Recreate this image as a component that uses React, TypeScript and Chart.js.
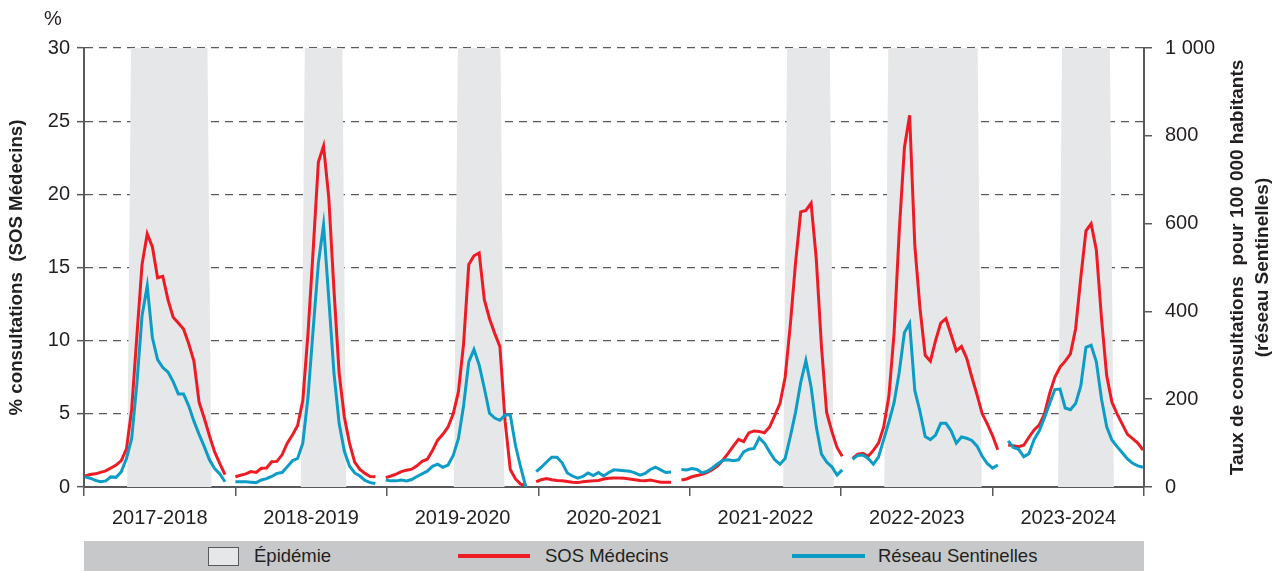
import React, { useEffect, useRef } from 'react';
import { Chart, registerables } from 'chart.js';

Chart.register(...registerables);

// ---------- data ----------
const seasons = ['2017-2018', '2018-2019', '2019-2020', '2020-2021', '2021-2022', '2022-2023', '2023-2024'];

// SOS Médecins, % of consultations (left axis), weekly
const sos2017 = [0.75, 0.85, 0.9, 1.0, 1.1, 1.3, 1.5, 1.8, 2.6, 5.3, 10.3, 15.2, 17.3, 16.4, 14.3, 14.4, 12.8, 11.6, 11.2, 10.8, 9.8, 8.6, 5.8, 4.7, 3.5, 2.4, 1.6, 0.85];
const sos2018 = [0.7, 0.8, 0.9, 1.05, 1.0, 1.28, 1.3, 1.73, 1.75, 2.2, 3.0, 3.55, 4.2, 5.9, 10.5, 16.2, 22.2, 23.3, 19.8, 13.5, 7.8, 4.8, 3.0, 1.7, 1.2, 0.93, 0.72, 0.7];
const sos2019 = [0.64, 0.75, 0.88, 1.05, 1.15, 1.22, 1.45, 1.75, 1.9, 2.5, 3.2, 3.6, 4.1, 5.0, 6.5, 9.8, 15.2, 15.8, 16.0, 12.8, 11.5, 10.5, 9.6, 4.5, 1.2, 0.55, 0.2, 0.1];
const sos2020 = [0.36, 0.5, 0.58, 0.5, 0.45, 0.43, 0.38, 0.32, 0.3, 0.36, 0.4, 0.42, 0.45, 0.55, 0.6, 0.62, 0.61, 0.59, 0.55, 0.5, 0.45, 0.42, 0.47, 0.4, 0.33, 0.32, 0.32];
const sos2021 = [0.48, 0.55, 0.7, 0.78, 0.87, 1.0, 1.2, 1.45, 1.85, 2.3, 2.8, 3.26, 3.1, 3.7, 3.83, 3.8, 3.7, 4.1, 4.9, 5.7, 7.5, 11.1, 15.3, 18.8, 18.9, 19.4, 15.6, 9.6, 5.1, 3.8, 2.7, 2.1];
const sos2022 = [1.96, 2.25, 2.3, 2.1, 2.5, 3.0, 4.1, 6.2, 10.5, 17.5, 23.2, 25.4, 16.5, 12.2, 9.0, 8.6, 10.0, 11.2, 11.5, 10.4, 9.3, 9.6, 8.8, 7.5, 6.3, 5.0, 4.3, 3.5, 2.55];
const sos2023 = [2.87, 2.82, 2.76, 2.85, 3.4, 3.9, 4.25, 5.0, 6.4, 7.5, 8.2, 8.6, 9.1, 10.8, 14.3, 17.5, 18.0, 16.2, 11.5, 7.6, 5.8, 5.0, 4.3, 3.6, 3.3, 3.0, 2.53];

// Réseau Sentinelles, consultations per 100 000 inhabitants (right axis), weekly
const sen2017 = [23, 20, 15, 12, 14, 23, 22, 35, 65, 110, 235, 390, 458, 340, 290, 272, 262, 240, 212, 212, 185, 150, 120, 92, 62, 42, 30, 12];
const sen2018 = [12, 12, 12, 11, 10, 16, 19, 24, 31, 33, 46, 60, 65, 100, 205, 360, 510, 597, 430, 260, 145, 82, 48, 32, 25, 15, 10, 8];
const sen2019 = [16, 14, 14, 16, 14, 17, 24, 30, 36, 47, 52, 45, 50, 72, 110, 185, 285, 313, 278, 225, 168, 157, 152, 164, 164, 95, 45, 0];
const sen2020 = [35, 45, 57, 68, 68, 55, 32, 25, 20, 24, 32, 26, 33, 25, 33, 39, 38, 37, 36, 32, 27, 31, 40, 45, 39, 33, 34];
const sen2021 = [40, 39, 42, 40, 32, 36, 44, 53, 61, 62, 60, 62, 80, 86, 88, 112, 100, 80, 62, 52, 65, 115, 170, 238, 288, 228, 137, 75, 57, 46, 27, 39];
const sen2022 = [63, 72, 73, 65, 52, 68, 108, 148, 192, 262, 352, 373, 220, 172, 115, 108, 118, 145, 145, 128, 100, 114, 111, 106, 93, 70, 53, 43, 50];
const sen2023 = [105, 90, 86, 69, 76, 108, 128, 158, 190, 222, 223, 180, 176, 190, 230, 318, 323, 285, 200, 137, 107, 92, 78, 64, 54, 48, 45];

const sosSeasons = [sos2017, sos2018, sos2019, sos2020, sos2021, sos2022, sos2023];
const senSeasons = [sen2017, sen2018, sen2019, sen2020, sen2021, sen2022, sen2023];

// Epidemic periods, in week index (seasons concatenated, one empty week between seasons)
const epiStart = [8.5, 42, 71.5, 135, 154.5, 188];
const epiEnd = [24, 50, 80.5, 144, 172.5, 198];

const rightTickLabels = ['0', '200', '400', '600', '800', '1 000'];

// ---------- styles ----------
const FONT = "'Liberation Sans', Arial, sans-serif";
const TEXT = '#231f20';
const AXIS = '#58595b';
const RED = '#ed1c24';
const TEAL = '#0c9cc6';
const SHADE = '#e6e7e8';

function concatSeasons(list: number[][]) {
  const pts: { x: number; y: number | null }[] = [];
  let idx = 0;
  list.forEach((s, k) => {
    if (k > 0) {
      pts.push({ x: idx, y: null });
      idx++;
    }
    s.forEach((v) => {
      pts.push({ x: idx, y: v });
      idx++;
    });
  });
  return pts;
}

const sosPoints = concatSeasons(sosSeasons);
const senPoints = concatSeasons(senSeasons);
const lastIndex = sosPoints.length - 1;

const shadePlugin = {
  id: 'epidemicShade',
  beforeDatasetsDraw(chart: any) {
    const { ctx, chartArea, scales } = chart;
    const xs = scales.x;
    ctx.save();
    ctx.fillStyle = SHADE;
    for (let i = 0; i < epiStart.length; i++) {
      const x1 = xs.getPixelForValue(epiStart[i]);
      const x2 = xs.getPixelForValue(epiEnd[i]);
      const inset = 2;
      ctx.beginPath();
      ctx.moveTo(x1 - inset, chartArea.bottom);
      ctx.lineTo(x1 + inset, chartArea.top);
      ctx.lineTo(x2 - inset, chartArea.top);
      ctx.lineTo(x2 + inset, chartArea.bottom);
      ctx.closePath();
      ctx.fill();
    }
    ctx.restore();
  },
};

const textPlugin = {
  id: 'extraText',
  afterDraw(chart: any) {
    const { ctx, chartArea } = chart;
    ctx.save();
    ctx.fillStyle = TEXT;
    ctx.font = `20px ${FONT}`;
    ctx.textAlign = 'center';
    ctx.textBaseline = 'middle';
    ctx.fillText('%', 53, 19);
    const cy = (chartArea.top + chartArea.bottom) / 2;
    ctx.font = `bold 19px ${FONT}`;
    ctx.translate(1238, cy);
    ctx.rotate(-Math.PI / 2);
    ctx.fillText('Taux de consultations  pour 100 000 habitants', 0, 0);
    ctx.fillText('(réseau Sentinelles)', 0, 25);
    ctx.restore();
  },
};

export default function App() {
  const ref = useRef<HTMLCanvasElement | null>(null);

  useEffect(() => {
    if (!ref.current) return;
    const tickFont = { family: FONT, size: 20 };
    const chart = new Chart(ref.current, {
      type: 'line',
      data: {
        datasets: [
          {
            label: 'SOS Médecins',
            data: sosPoints as any,
            borderColor: RED,
            backgroundColor: RED,
            borderWidth: 3,
            pointRadius: 0,
            spanGaps: false,
            yAxisID: 'y',
            xAxisID: 'x',
            order: 1,
          },
          {
            label: 'Réseau Sentinelles',
            data: senPoints as any,
            borderColor: TEAL,
            backgroundColor: TEAL,
            borderWidth: 3,
            pointRadius: 0,
            spanGaps: false,
            yAxisID: 'y1',
            xAxisID: 'x',
            order: 0,
          },
        ],
      },
      options: {
        animation: false,
        responsive: false,
        maintainAspectRatio: false,
        layout: { padding: { top: 48, left: 0, right: 0, bottom: 0 } },
        plugins: { legend: { display: false }, tooltip: { enabled: false } },
        scales: {
          x: {
            type: 'linear',
            min: -0.19,
            max: lastIndex + 0.19,
            display: false,
          },
          season: {
            type: 'category',
            labels: seasons,
            position: 'bottom',
            offset: true,
            grid: { offset: true, drawOnChartArea: false, tickLength: 9, color: AXIS, lineWidth: 1.5 },
            border: { color: AXIS, width: 2 },
            ticks: { padding: 10, font: tickFont, color: TEXT, maxRotation: 0, autoSkip: false },
            afterFit: (s: any) => {
              s.height = 48;
            },
          },
          y: {
            position: 'left',
            min: 0,
            max: 30,
            ticks: { stepSize: 5, padding: 7, font: tickFont, color: TEXT },
            grid: { color: '#58595b', lineWidth: 1.3, tickLength: 7, tickColor: AXIS, tickWidth: 1.5 },
            border: { color: AXIS, width: 2, dash: [8, 6] },
            title: {
              display: true,
              text: '% consultations  (SOS Médecins)',
              font: { family: FONT, size: 18.7, weight: 'bold' },
              color: TEXT,
              padding: { top: 6, bottom: 0 },
            },
            afterFit: (s: any) => {
              s.width = 84;
            },
          },
          y1: {
            position: 'right',
            min: 0,
            max: 1000,
            ticks: {
              stepSize: 200,
              padding: 13,
              font: tickFont,
              color: TEXT,
              callback: (_v: any, i: number) => rightTickLabels[i],
            },
            grid: { drawOnChartArea: false, tickLength: 8, color: AXIS, lineWidth: 1.5 },
            border: { color: AXIS, width: 2 },
            afterFit: (s: any) => {
              s.width = 141;
            },
          },
        },
      },
      plugins: [shadePlugin, textPlugin],
    });
    return () => chart.destroy();
  }, []);

  const legendText: React.CSSProperties = {
    position: 'absolute',
    top: 0,
    height: 30,
    lineHeight: '30px',
    fontFamily: FONT,
    fontSize: 18.5,
    color: TEXT,
    whiteSpace: 'nowrap',
  };

  return (
    <div style={{ position: 'fixed', left: 0, top: 0, width: 1285, height: 571, background: '#fff', overflow: 'hidden' }}>
      <canvas ref={ref} width={1285} height={535} style={{ position: 'absolute', left: 0, top: 0, width: 1285, height: 535 }} />
      <div style={{ position: 'absolute', left: 84, top: 541, width: 1060, height: 30, background: '#c7c8ca' }}>
        <div style={{ position: 'absolute', left: 124, top: 6, width: 29, height: 17, background: SHADE, border: `1.5px solid ${AXIS}` }} />
        <div style={{ ...legendText, left: 170 }}>Épidémie</div>
        <div style={{ position: 'absolute', left: 374, top: 13, width: 72, height: 4, background: RED }} />
        <div style={{ ...legendText, left: 461 }}>SOS Médecins</div>
        <div style={{ position: 'absolute', left: 708, top: 13, width: 73, height: 4, background: TEAL }} />
        <div style={{ ...legendText, left: 794 }}>Réseau Sentinelles</div>
      </div>
    </div>
  );
}
